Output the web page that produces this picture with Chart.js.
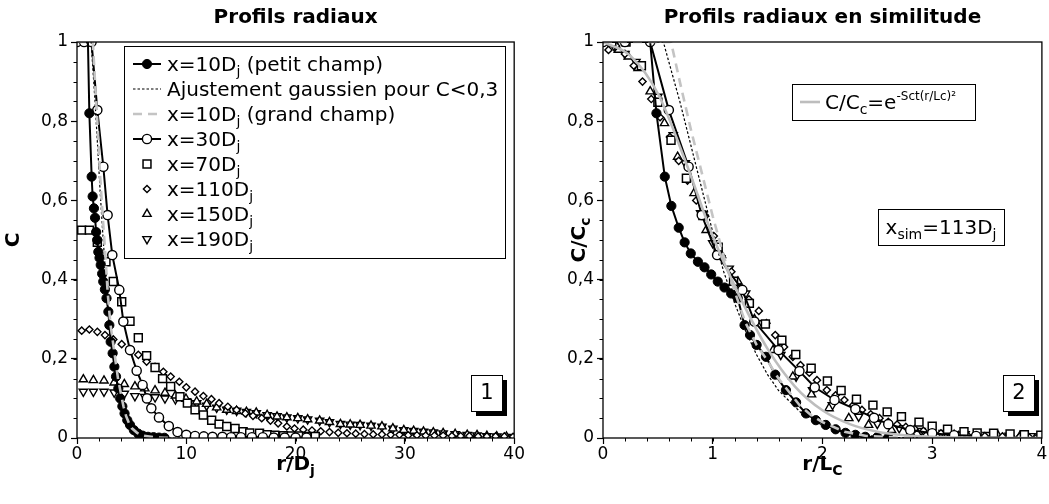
<!DOCTYPE html>
<html><head><meta charset="utf-8">
<script src="https://cdn.jsdelivr.net/npm/chart.js@4/dist/chart.umd.min.js"></script>
<style>
html,body{margin:0;padding:0;background:#fff;width:1049px;height:504px;overflow:hidden}
#c1{position:absolute;left:0;top:0}
#c2{position:absolute;left:525px;top:0}
</style></head><body>
<canvas id="c1" width="525" height="504"></canvas>
<canvas id="c2" width="524" height="504"></canvas>
<script>
// ---------- tick labels ----------
const xTicksL = [0, 10, 20, 30, 40];
const xTicksR = [0, 1, 2, 3, 4];
const yTicks = [0, 0.2, 0.4, 0.6, 0.8, 1];

// ---------- left panel : r/Dj , C ----------
const r10pL = [0, 1.0, 1.13, 1.34, 1.43, 1.55, 1.65, 1.75, 1.85, 1.95, 2.06, 2.17, 2.3, 2.4, 2.55, 2.7, 2.87, 2.96, 3.08, 3.26, 3.42, 3.57, 3.78, 3.95, 4.15, 4.35, 4.6, 4.85, 5.2, 5.6, 6.0, 6.5, 7.0, 7.5, 8.0];
const c10pL = [1, 1, 0.82, 0.66, 0.61, 0.58, 0.556, 0.52, 0.5, 0.47, 0.455, 0.437, 0.415, 0.395, 0.375, 0.353, 0.319, 0.285, 0.243, 0.214, 0.18, 0.155, 0.125, 0.1, 0.08, 0.062, 0.045, 0.033, 0.02, 0.011, 0.006, 0.003, 0.002, 0.001, 0.0005];
const rFitL = [0, 1.3, 1.41, 1.65, 1.88, 2.1, 2.35, 2.6, 2.8, 3.05, 3.3, 3.5, 3.75, 4.2, 4.7, 5.2, 5.6, 6.3, 8, 10];
const cFitL = [1, 1, 0.95, 0.85, 0.74, 0.63, 0.52, 0.42, 0.34, 0.27, 0.21, 0.16, 0.12, 0.065, 0.032, 0.014, 0.006, 0.001, 0, 0];
const rGrL = [0, 1.45, 1.65, 1.9, 2.1, 2.35, 2.6, 2.8, 3.05, 3.3, 3.5, 3.75, 4.0, 4.25, 4.5, 4.75, 5.0, 5.5, 6.0, 7.0, 8.0, 9.0];
const cGrL = [1, 1, 0.9, 0.78, 0.67, 0.56, 0.46, 0.37, 0.29, 0.24, 0.2, 0.15, 0.115, 0.08, 0.055, 0.038, 0.025, 0.013, 0.006, 0.002, 0.0005, 0];
const r30L = [0, 0.65, 1.33, 1.86, 2.41, 2.8, 3.23, 3.87, 4.24, 4.85, 5.46, 6.0, 6.4, 6.8, 7.5, 8.4, 9.2, 10.0, 10.8, 11.6, 12.4, 13.3, 14.1, 15.0, 16.0, 17.0, 18.0, 19.0, 20.0, 21.0];
const c30L = [1, 1, 1, 0.828, 0.685, 0.563, 0.462, 0.374, 0.294, 0.222, 0.17, 0.134, 0.1, 0.075, 0.052, 0.03, 0.015, 0.008, 0.005, 0.004, 0.003, 0.003, 0.002, 0.002, 0.002, 0.002, 0.001, 0.001, 0.001, 0.001];
const r70L = [0.43, 1.13, 1.86, 2.65, 3.32, 4.09, 4.85, 5.61, 6.37, 7.14, 7.83, 8.57, 9.42, 10.1, 10.8, 11.56, 12.32, 13.0, 13.7, 14.46, 15.2, 15.8, 16.7, 17.4, 18.1, 18.9, 19.6, 20.3, 21.0, 21.8];
const c70L = [0.525, 0.525, 0.494, 0.445, 0.395, 0.344, 0.295, 0.253, 0.208, 0.178, 0.15, 0.13, 0.104, 0.088, 0.071, 0.058, 0.045, 0.035, 0.029, 0.024, 0.016, 0.013, 0.012, 0.008, 0.007, 0.006, 0.005, 0.005, 0.004, 0.004];
const r110L = [0.43, 1.13, 1.86, 2.56, 3.32, 4.09, 4.85, 5.61, 6.37, 7.14, 7.9, 8.57, 9.36, 10.0, 10.8, 11.56, 12.3, 13.0, 13.8, 14.6, 15.4, 16.1, 16.9, 17.7, 18.4, 19.2, 19.9, 20.7, 21.5, 22.3, 23.1, 23.9, 24.7, 25.5, 26.3, 27.1, 27.9, 28.7, 29.5, 30.3, 31.1, 31.9, 32.7, 33.5, 34.3, 35.1, 35.9, 36.7, 37.5, 38.3, 39.1, 39.9];
const c110L = [0.271, 0.274, 0.268, 0.26, 0.249, 0.237, 0.224, 0.21, 0.193, 0.18, 0.167, 0.155, 0.142, 0.128, 0.117, 0.106, 0.098, 0.088, 0.079, 0.071, 0.062, 0.056, 0.05, 0.044, 0.037, 0.029, 0.024, 0.021, 0.019, 0.017, 0.015, 0.013, 0.012, 0.011, 0.01, 0.009, 0.009, 0.008, 0.008, 0.007, 0.007, 0.006, 0.006, 0.006, 0.005, 0.005, 0.005, 0.004, 0.004, 0.004, 0.004, 0.003];
const r150L = [0.58, 1.5, 2.47, 3.4, 4.33, 5.3, 6.2, 7.14, 8.05, 9.0, 9.97, 10.95, 11.86, 12.78, 13.7, 14.6, 15.5, 16.4, 17.4, 18.3, 19.2, 20.2, 21.1, 22.2, 23.1, 24.1, 25.0, 25.9, 26.9, 27.9, 28.9, 29.9, 30.8, 31.7, 32.6, 33.5, 34.6, 35.7, 36.6, 37.5, 38.4, 39.3];
const c150L = [0.148, 0.146, 0.145, 0.14, 0.136, 0.13, 0.125, 0.12, 0.114, 0.107, 0.099, 0.092, 0.086, 0.077, 0.071, 0.068, 0.066, 0.064, 0.058, 0.054, 0.052, 0.05, 0.047, 0.044, 0.04, 0.035, 0.034, 0.033, 0.031, 0.029, 0.024, 0.02, 0.018, 0.016, 0.014, 0.012, 0.01, 0.008, 0.007, 0.005, 0.004, 0.003];
const r190L = [0.58, 1.5, 2.47, 3.4, 4.33, 5.3, 6.2, 7.14, 8.05, 9.0, 9.97, 10.95, 11.86, 12.78, 13.7, 14.6, 15.5, 16.4, 17.4, 18.3, 19.2, 20.2, 21.1, 22.2, 23.1, 24.1, 25.0, 25.9, 26.9, 27.9, 28.9, 29.9, 30.8, 31.7, 32.6, 33.5, 34.6, 35.7, 36.6, 37.5, 38.4, 39.3];
const c190L = [0.117, 0.117, 0.117, 0.115, 0.112, 0.106, 0.104, 0.103, 0.1, 0.098, 0.093, 0.088, 0.082, 0.077, 0.072, 0.069, 0.066, 0.063, 0.058, 0.055, 0.052, 0.05, 0.047, 0.044, 0.04, 0.036, 0.034, 0.033, 0.031, 0.029, 0.024, 0.02, 0.018, 0.016, 0.014, 0.012, 0.01, 0.008, 0.007, 0.005, 0.004, 0.003];

// ---------- right panel : r/Lc , C/Cc ----------
const r10pR = [0, 0.43, 0.487, 0.563, 0.623, 0.69, 0.744, 0.8, 0.865, 0.925, 0.986, 1.046, 1.107, 1.168, 1.228, 1.29, 1.34, 1.4, 1.485, 1.57, 1.667, 1.76, 1.85, 1.94, 2.03, 2.12, 2.21, 2.3, 2.39, 2.5, 2.6];
const c10pR = [1, 1, 0.82, 0.66, 0.586, 0.531, 0.494, 0.466, 0.445, 0.431, 0.413, 0.395, 0.38, 0.365, 0.353, 0.285, 0.26, 0.235, 0.205, 0.16, 0.121, 0.09, 0.062, 0.045, 0.033, 0.022, 0.013, 0.008, 0.003, 0.002, 0.001];
const rFitR = [0, 0.55, 0.6, 0.7, 0.8, 0.9, 1.0, 1.1, 1.2, 1.3, 1.4, 1.5, 1.6, 1.8, 2.0, 2.2, 2.4, 2.7, 3.4, 4];
const cFitR = [1, 1, 0.95, 0.85, 0.74, 0.63, 0.52, 0.42, 0.34, 0.27, 0.21, 0.16, 0.12, 0.065, 0.032, 0.014, 0.006, 0.001, 0, 0];
const rGrR = [0, 0.62, 0.7, 0.8, 0.9, 1.0, 1.1, 1.2, 1.3, 1.4, 1.5, 1.6, 1.7, 1.8, 1.9, 2.0, 2.2, 2.4, 2.7, 3.0];
const cGrR = [1, 1, 0.9, 0.78, 0.67, 0.56, 0.46, 0.37, 0.29, 0.235, 0.195, 0.15, 0.115, 0.08, 0.057, 0.04, 0.016, 0.005, 0.001, 0];
const r30R = [0, 0.2, 0.43, 0.6, 0.78, 0.9, 1.04, 1.27, 1.38, 1.6, 1.79, 1.93, 2.11, 2.3, 2.47, 2.6, 2.8, 3.0, 3.2, 3.4];
const c30R = [1, 1, 1, 0.828, 0.685, 0.563, 0.462, 0.374, 0.294, 0.222, 0.169, 0.128, 0.096, 0.073, 0.051, 0.035, 0.02, 0.012, 0.007, 0.005];
const r70R = [0.08, 0.21, 0.35, 0.5, 0.62, 0.76, 0.91, 1.05, 1.19, 1.334, 1.48, 1.63, 1.757, 1.897, 2.045, 2.17, 2.31, 2.46, 2.59, 2.72, 2.88, 3.0, 3.14, 3.29, 3.41, 3.56, 3.71, 3.84, 3.99];
const c70R = [1, 1, 0.94, 0.848, 0.752, 0.656, 0.562, 0.482, 0.396, 0.34, 0.288, 0.247, 0.211, 0.176, 0.144, 0.12, 0.098, 0.083, 0.066, 0.054, 0.04, 0.03, 0.022, 0.016, 0.013, 0.012, 0.01, 0.008, 0.007];
const r110R = [0.05, 0.12, 0.2, 0.28, 0.36, 0.44, 0.52, 0.61, 0.69, 0.77, 0.85, 0.93, 1.01, 1.08, 1.17, 1.25, 1.33, 1.42, 1.49, 1.57, 1.65, 1.73, 1.8, 1.88, 1.95, 2.04, 2.12, 2.2, 2.28, 2.36, 2.44, 2.52, 2.6, 2.68, 2.76, 2.84, 2.92, 3.0, 3.08, 3.16, 3.24, 3.32, 3.4, 3.48, 3.56, 3.64, 3.72, 3.8, 3.88, 3.96];
const c110R = [0.98, 0.99, 0.97, 0.94, 0.9, 0.856, 0.81, 0.76, 0.7, 0.65, 0.6, 0.56, 0.51, 0.46, 0.42, 0.38, 0.35, 0.321, 0.29, 0.26, 0.23, 0.205, 0.184, 0.165, 0.146, 0.121, 0.108, 0.096, 0.083, 0.071, 0.06, 0.05, 0.041, 0.034, 0.028, 0.023, 0.018, 0.014, 0.012, 0.01, 0.008, 0.007, 0.006, 0.005, 0.005, 0.004, 0.004, 0.004, 0.003, 0.003];
const r150R = [0.05, 0.14, 0.23, 0.32, 0.43, 0.56, 0.68, 0.83, 0.94, 1.08, 1.23, 1.38, 1.55, 1.73, 1.9, 2.06, 2.24, 2.42, 2.63, 2.8, 3.0, 3.2, 3.4, 3.6, 3.8, 4.0];
const c150R = [1.0, 0.98, 0.963, 0.934, 0.875, 0.795, 0.71, 0.618, 0.525, 0.462, 0.395, 0.3, 0.222, 0.155, 0.11, 0.075, 0.05, 0.033, 0.02, 0.014, 0.01, 0.008, 0.007, 0.006, 0.005, 0.004];
const r190R = [0.1, 0.2, 0.3, 0.5, 0.64, 0.75, 0.89, 1.0, 1.15, 1.3, 1.45, 1.62, 1.76, 1.91, 2.09, 2.33, 2.5, 2.7, 2.9, 3.1, 3.3, 3.5, 3.7, 3.9];
const c190R = [0.99, 0.97, 0.95, 0.862, 0.765, 0.694, 0.568, 0.492, 0.428, 0.365, 0.29, 0.21, 0.155, 0.121, 0.083, 0.054, 0.036, 0.025, 0.018, 0.013, 0.01, 0.008, 0.006, 0.005];
const rGaussR = [0, 0.25, 0.5, 0.75, 1.0, 1.25, 1.5, 1.75, 2.0, 2.25, 2.5, 2.75, 3.0, 3.5, 4.0];
const cGaussR = [1, 0.965, 0.87, 0.7, 0.51, 0.355, 0.225, 0.13, 0.07, 0.035, 0.016, 0.007, 0.003, 0.0005, 0];

// ---------- helpers ----------
const FONT = "'DejaVu Sans', 'Liberation Sans', sans-serif";
const GRAY = '#c4c4c4';
function pts(xs, ys) { return xs.map((x, i) => ({ x: x, y: ys[i] })); }
function fmt(v) { return String(+Number(v).toFixed(2)).replace('.', ','); }
function setFont(ctx, p) { ctx.font = (p.b ? 'bold ' : '') + p.s + 'px ' + FONT; }
function richWidth(ctx, parts) { let w = 0; for (const p of parts) { setFont(ctx, p); w += ctx.measureText(p.t).width; } return w; }
function drawRich(ctx, parts, x, y, align) {
  const w = richWidth(ctx, parts);
  let cx = align === 'center' ? x - w / 2 : (align === 'right' ? x - w : x);
  ctx.textAlign = 'left'; ctx.textBaseline = 'alphabetic'; ctx.fillStyle = '#000';
  for (const p of parts) { setFont(ctx, p); ctx.fillText(p.t, cx, y + (p.dy || 0)); cx += ctx.measureText(p.t).width; }
}
function T(t, s, b, dy) { return { t: t, s: s || 20, b: !!b, dy: dy || 0 }; }
const SUB = 14, SUBDY = 5;

const markerStyles = {
  p10: { pointStyle: 'circle', radius: 4.6, rotation: 0, fill: '#000', bw: 1 },
  d30: { pointStyle: 'circle', radius: 4.6, rotation: 0, fill: '#fff', bw: 1.4 },
  d70: { pointStyle: 'rect', radius: 5.6, rotation: 0, fill: '#fff', bw: 1.5 },
  d110: { pointStyle: 'rectRot', radius: 3.6, rotation: 0, fill: '#fff', bw: 1.4 },
  d150: { pointStyle: 'triangle', radius: 4.8, rotation: 0, fill: '#fff', bw: 1.4 },
  d190: { pointStyle: 'triangle', radius: 4.8, rotation: 180, fill: '#fff', bw: 1.4 }
};
function markerDS(label, data, m, order) {
  return { label: label, data: data, showLine: false, order: order,
    pointStyle: m.pointStyle, pointRadius: m.radius, pointRotation: m.rotation,
    pointBackgroundColor: m.fill, pointBorderColor: '#000', pointBorderWidth: m.bw,
    borderColor: '#000', backgroundColor: m.fill };
}
function lineDS(label, data, color, width, dash, order, extra) {
  return Object.assign({ label: label, data: data, showLine: true, order: order, borderColor: color,
    borderWidth: width, borderDash: dash, pointRadius: 0, tension: 0, fill: false }, extra || {});
}
function drawMarker(ctx, m, x, y) {
  ctx.save();
  ctx.fillStyle = m.fill; ctx.strokeStyle = '#000'; ctx.lineWidth = m.bw;
  Chart.helpers.drawPoint(ctx, { pointStyle: m.pointStyle, radius: m.radius, rotation: m.rotation, borderWidth: m.bw }, x, y);
  ctx.restore();
}
function seg(ctx, x1, x2, y, color, w, dash) {
  ctx.save(); ctx.strokeStyle = color; ctx.lineWidth = w; ctx.setLineDash(dash || []);
  ctx.beginPath(); ctx.moveTo(x1, y); ctx.lineTo(x2, y); ctx.stroke(); ctx.restore();
}
function numberBox(ctx, x, y, w, h, txt) {
  ctx.save();
  ctx.fillStyle = '#000'; ctx.fillRect(x + 5, y + 5, w, h);
  ctx.fillStyle = '#fff'; ctx.fillRect(x, y, w, h);
  ctx.strokeStyle = '#000'; ctx.lineWidth = 1; ctx.strokeRect(x + 0.5, y + 0.5, w, h);
  ctx.fillStyle = '#000'; ctx.font = '21px ' + FONT; ctx.textAlign = 'center'; ctx.textBaseline = 'middle';
  ctx.fillText(txt, x + w / 2 + 0.5, y + h / 2 + 1);
  ctx.restore();
}

// ---------- decoration plugin ----------
const deco = {
  id: 'deco',
  afterDraw(chart, args, o) {
    const ctx = chart.ctx, ca = chart.chartArea, xs = chart.scales.x, ys = chart.scales.y;
    ctx.save();
    // minor ticks
    ctx.strokeStyle = '#000'; ctx.lineWidth = 1;
    for (let v = o.xMinorStep; v < xs.max; v += o.xMinorStep) {
      const px = Math.round(xs.getPixelForValue(v)) + 0.5;
      ctx.beginPath(); ctx.moveTo(px, ca.bottom); ctx.lineTo(px, ca.bottom + 3.5); ctx.stroke();
    }
    for (let v = 0.05; v < 1; v += 0.05) {
      const py = Math.round(ys.getPixelForValue(v)) + 0.5;
      ctx.beginPath(); ctx.moveTo(ca.left, py); ctx.lineTo(ca.left - 3.5, py); ctx.stroke();
    }
    // frame
    ctx.lineWidth = 1.3;
    ctx.strokeRect(ca.left, ca.top, ca.right - ca.left, ca.bottom - ca.top);
    // title
    const cx = (ca.left + ca.right) / 2;
    drawRich(ctx, [T(o.title, 20, true)], cx, 23, 'center');
    // x title
    drawRich(ctx, o.xTitle, cx, 470, 'center');
    // y title
    ctx.save(); ctx.translate(o.yTitleX, (ca.top + ca.bottom) / 2); ctx.rotate(-Math.PI / 2);
    drawRich(ctx, o.yTitle, 0, 0, 'center'); ctx.restore();
    o.extra(ctx, ca);
    ctx.restore();
  }
};

function makeChart(id, datasets, cfg) {
  return new Chart(document.getElementById(id), {
    type: 'scatter',
    data: { datasets: datasets },
    plugins: [deco],
    options: {
      responsive: false, animation: false, devicePixelRatio: 1,
      layout: { padding: { left: 0, top: 42, right: cfg.padR, bottom: 36 } },
      plugins: { legend: { display: false }, tooltip: { enabled: false }, title: { display: false }, deco: cfg },
      scales: {
        x: { type: 'linear', min: cfg.xmin, max: cfg.xmax,
          afterFit: s => { s.height = 30; },
          afterBuildTicks: s => { s.ticks = cfg.xTicks.map(v => ({ value: v })); },
          ticks: { autoSkip: false, maxRotation: 0, color: '#000', font: { family: FONT, size: 17 }, padding: 0, callback: fmt },
          grid: { display: true, drawOnChartArea: false, drawTicks: true, tickLength: 6, tickColor: '#000', tickWidth: 1.2 },
          border: { display: false } },
        y: { type: 'linear', min: 0, max: 1,
          afterFit: s => { s.width = cfg.yWidth; },
          afterBuildTicks: s => { s.ticks = yTicks.map(v => ({ value: v })); },
          ticks: { autoSkip: false, color: '#000', font: { family: FONT, size: 17 }, padding: 3, callback: fmt },
          grid: { display: true, drawOnChartArea: false, drawTicks: true, tickLength: 6, tickColor: '#000', tickWidth: 1.2 },
          border: { display: false } }
      }
    }
  });
}

const noFirst2 = ctx => (ctx.dataIndex < 2 ? 0 : 4.6);

// ---------- left chart ----------
const dsL = [
  lineDS('x=10Dj (grand champ)', pts(rGrL, cGrL), GRAY, 2.6, [9, 6], 0),
  lineDS('Ajustement gaussien pour C<0,3', pts(rFitL, cFitL), '#000', 1.2, [2.5, 2], 1),
  lineDS('x=10Dj (petit champ)', pts(r10pL, c10pL), '#000', 2, [], 2,
    { pointStyle: 'circle', pointRadius: noFirst2, pointBackgroundColor: '#000', pointBorderColor: '#000', pointBorderWidth: 1 }),
  lineDS('x=30Dj', pts(r30L, c30L), '#000', 2, [], 3,
    { pointStyle: 'circle', pointRadius: 4.6, pointBackgroundColor: '#fff', pointBorderColor: '#000', pointBorderWidth: 1.4 }),
  markerDS('x=70Dj', pts(r70L, c70L), markerStyles.d70, 4),
  markerDS('x=110Dj', pts(r110L, c110L), markerStyles.d110, 5),
  markerDS('x=150Dj', pts(r150L, c150L), markerStyles.d150, 6),
  markerDS('x=190Dj', pts(r190L, c190L), markerStyles.d190, 7)
];

const legendRows = [
  { parts: [T('x=10D'), T('j', SUB, false, SUBDY), T(' (petit champ)')], sym: (ctx, x, y) => { seg(ctx, x - 14, x + 14, y, '#000', 2); drawMarker(ctx, markerStyles.p10, x, y); } },
  { parts: [T('Ajustement gaussien pour C<0,3')], sym: (ctx, x, y) => seg(ctx, x - 14, x + 14, y, '#000', 1.2, [2.5, 2]) },
  { parts: [T('x=10D'), T('j', SUB, false, SUBDY), T(' (grand champ)')], sym: (ctx, x, y) => seg(ctx, x - 14, x + 14, y, GRAY, 2.6, [9, 6]) },
  { parts: [T('x=30D'), T('j', SUB, false, SUBDY)], sym: (ctx, x, y) => { seg(ctx, x - 14, x + 14, y, '#000', 2); drawMarker(ctx, markerStyles.d30, x, y); } },
  { parts: [T('x=70D'), T('j', SUB, false, SUBDY)], sym: (ctx, x, y) => drawMarker(ctx, markerStyles.d70, x, y) },
  { parts: [T('x=110D'), T('j', SUB, false, SUBDY)], sym: (ctx, x, y) => drawMarker(ctx, markerStyles.d110, x, y) },
  { parts: [T('x=150D'), T('j', SUB, false, SUBDY)], sym: (ctx, x, y) => drawMarker(ctx, markerStyles.d150, x, y) },
  { parts: [T('x=190D'), T('j', SUB, false, SUBDY)], sym: (ctx, x, y) => drawMarker(ctx, markerStyles.d190, x, y) }
];

makeChart('c1', dsL, {
  xmin: 0, xmax: 40, xTicks: xTicksL, xMinorStep: 2, yWidth: 77, padR: 10,
  title: 'Profils radiaux',
  xTitle: [T('r/D', 20, true), T('j', SUB, true, SUBDY)],
  yTitle: [T('C', 20, true)], yTitleX: 19,
  extra: (ctx, ca) => {
    // legend box
    ctx.save();
    ctx.fillStyle = '#fff'; ctx.fillRect(124, 46, 381, 212);
    ctx.strokeStyle = '#000'; ctx.lineWidth = 1; ctx.strokeRect(124.5, 46.5, 381, 212);
    ctx.restore();
    legendRows.forEach((row, i) => {
      const y = 64 + i * 25;
      row.sym(ctx, 147, y);
      drawRich(ctx, row.parts, 167, y + 7, 'left');
    });
    numberBox(ctx, 471, 375, 31, 36, '1');
  }
});

// ---------- right chart ----------
const dsR = [
  lineDS('C/Cc=e^-Sct(r/Lc)²', pts(rGaussR, cGaussR), '#bdbdbd', 2.6, [], 0, { cubicInterpolationMode: 'monotone' }),
  lineDS('x=10Dj (grand champ)', pts(rGrR, cGrR), GRAY, 2.6, [9, 6], 1),
  lineDS('Ajustement gaussien pour C<0,3', pts(rFitR, cFitR), '#000', 1.2, [2.5, 2], 2),
  lineDS('x=10Dj (petit champ)', pts(r10pR, c10pR), '#000', 2, [], 3,
    { pointStyle: 'circle', pointRadius: noFirst2, pointBackgroundColor: '#000', pointBorderColor: '#000', pointBorderWidth: 1 }),
  lineDS('x=30Dj', pts(r30R, c30R), '#000', 2, [], 4,
    { pointStyle: 'circle', pointRadius: 4.6, pointBackgroundColor: '#fff', pointBorderColor: '#000', pointBorderWidth: 1.4 }),
  markerDS('x=70Dj', pts(r70R, c70R), markerStyles.d70, 5),
  markerDS('x=110Dj', pts(r110R, c110R), markerStyles.d110, 6),
  markerDS('x=150Dj', pts(r150R, c150R), markerStyles.d150, 7),
  markerDS('x=190Dj', pts(r190R, c190R), markerStyles.d190, 8)
];

makeChart('c2', dsR, {
  xmin: 0, xmax: 4, xTicks: xTicksR, xMinorStep: 0.2, yWidth: 78, padR: 5,
  title: 'Profils radiaux en similitude',
  xTitle: [T('r/L', 20, true), T('C', SUB, true, SUBDY)],
  yTitle: [T('C/C', 20, true), T('c', SUB, true, SUBDY)], yTitleX: 60,
  extra: (ctx, ca) => {
    // legend
    ctx.save();
    ctx.fillStyle = '#fff'; ctx.fillRect(267, 84, 183, 36);
    ctx.strokeStyle = '#000'; ctx.lineWidth = 1; ctx.strokeRect(267.5, 84.5, 183, 36);
    ctx.restore();
    seg(ctx, 275, 295, 102, '#bdbdbd', 2.6);
    drawRich(ctx, [T('C/C'), T('c', SUB, false, SUBDY), T('=e'), T('-Sct(r/Lc)²', 12, false, -9)], 300, 109, 'left');
    // x_sim box
    ctx.save();
    ctx.fillStyle = '#fff'; ctx.fillRect(353, 209, 126, 36);
    ctx.strokeStyle = '#000'; ctx.lineWidth = 1; ctx.strokeRect(353.5, 209.5, 126, 36);
    ctx.restore();
    drawRich(ctx, [T('x'), T('sim', SUB, false, SUBDY), T('=113D'), T('j', SUB, false, SUBDY)], 416, 234, 'center');
    numberBox(ctx, 478, 375, 31, 36, '2');
  }
});
</script>
</body></html>
